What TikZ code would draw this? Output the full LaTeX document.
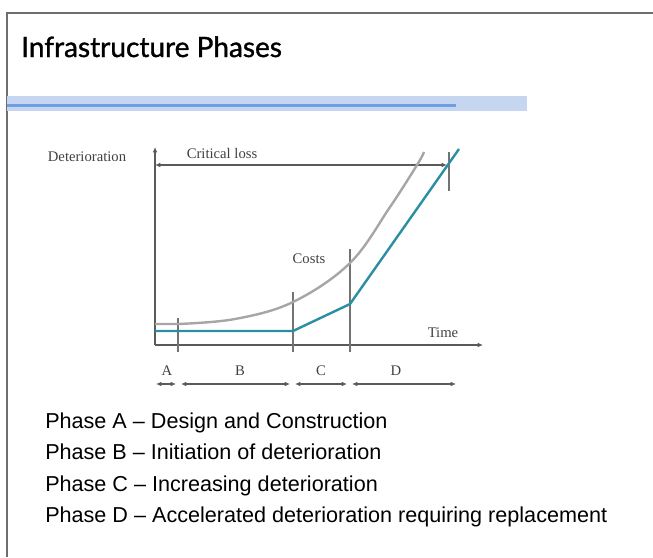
\documentclass[tikz,border=0pt]{standalone}
\usepackage{fontspec}
\setmainfont{Liberation Serif}
\newfontfamily\headfont[FakeBold=1.2]{Lato}
\newfontfamily\listfont{Liberation Sans}
\usepackage{tikz}
\usetikzlibrary{arrows.meta,positioning}
\definecolor{framegray}{HTML}{6E6E6E}
\definecolor{axisgray}{HTML}{5A5A5A}
\definecolor{curvegray}{HTML}{A6A6A6}
\definecolor{tealline}{HTML}{2B8FA3}
\definecolor{bandlight}{HTML}{C6D6F1}
\definecolor{bandblue}{HTML}{6F9FE0}

\begin{document}
\begin{tikzpicture}[
    x=0.75pt, y=-0.75pt,
    axis/.style={draw=axisgray, line width=1pt},
    tick/.style={draw=axisgray!85, line width=0.9pt},
    span/.style={{Latex[length=4pt,width=3.5pt]}-{Latex[length=4pt,width=3.5pt]}, draw=axisgray, line width=0.8pt},
    lbl/.style={font=\fontsize{11}{13}\selectfont, text=black!75, inner sep=0pt},
    phase/.style={font=\listfont\fontsize{16.2}{19}\selectfont, inner sep=0pt,
                  text height=11.5pt, text depth=3.5pt, anchor=west}
]
  \useasboundingbox (0,0) rectangle (653,557);

  % Frame
  \draw[framegray, line width=1.2pt] (7,557) -- (7,13) -- (653,13);

  % Title
  \node[anchor=base west, inner sep=0pt, font=\headfont\fontsize{21}{25}\selectfont] (title) at (21,57) {Infrastructure Phases};

  % Blue band
  \fill[bandlight] (7,96) rectangle (527,111);
  \fill[bandblue] (7,104) rectangle (456,107);

  % Axes
  \coordinate (orig) at (155,345);
  \coordinate (ytop) at (155,147);
  \coordinate (xend) at (483,345);
  \draw[axis, -{Latex[length=4pt,width=3.5pt]}] (orig) -- (ytop);
  \draw[axis, -{Latex[length=4pt,width=3.5pt]}] (orig) -- (xend);

  % Critical loss
  \coordinate (crl) at (155,165);
  \coordinate (crr) at (447,165);
  \draw[span] (crl) -- (crr);
  \draw[tick] (449,152) -- (449,191);

  % Phase boundaries
  \draw[tick] (178,318) -- (178,352);
  \draw[tick] (293,292) -- (293,352);
  \draw[tick] (350,249) -- (350,352);

  % Costs curve
  \draw[curvegray, line width=1.8pt] (155,324) -- (178,324)
    plot[smooth, tension=0.6] coordinates {(178,324) (235,319) (293,302) (350,263) (390,207) (417,165) (424,152)};

  % Deterioration line
  \draw[tealline, line width=1.8pt] (155,331) -- (293,331) -- (350,304) -- (459,149);

  % Labels
  \node[lbl] (ylab) at (87,157) {Deterioration};
  \node[lbl] (crlab) at (222,153) {Critical loss};
  \node[lbl] (costs) at (309,259) {Costs};
  \node[lbl] (time) at (443,333) {Time};

  % Phase spans
  \coordinate (a1) at (156,384); \coordinate (a2) at (176,384);
  \coordinate (b1) at (181,384); \coordinate (b2) at (290,384);
  \coordinate (c1) at (295,384); \coordinate (c2) at (347,384);
  \coordinate (d1) at (352,384); \coordinate (d2) at (456,384);
  \draw[span] (a1) -- (a2);
  \draw[span] (b1) -- (b2);
  \draw[span] (c1) -- (c2);
  \draw[span] (d1) -- (d2);
  \node[lbl] (la) at (167,371) {A};
  \node[lbl] (lb) at (240,371) {B};
  \node[lbl] (lc) at (321,371) {C};
  \node[lbl] (ld) at (396,371) {D};

  % Phase list
  \node[phase] (pa) at (45,423) {Phase A – Design and Construction};
  \node[phase, below=8.25pt of pa.south west, anchor=north west] (pb) {Phase B – Initiation of deterioration};
  \node[phase, below=8.25pt of pb.south west, anchor=north west] (pc) {Phase C – Increasing deterioration};
  \node[phase, below=8.25pt of pc.south west, anchor=north west] (pd) {Phase D – Accelerated deterioration requiring replacement};

\end{tikzpicture}
\end{document}
